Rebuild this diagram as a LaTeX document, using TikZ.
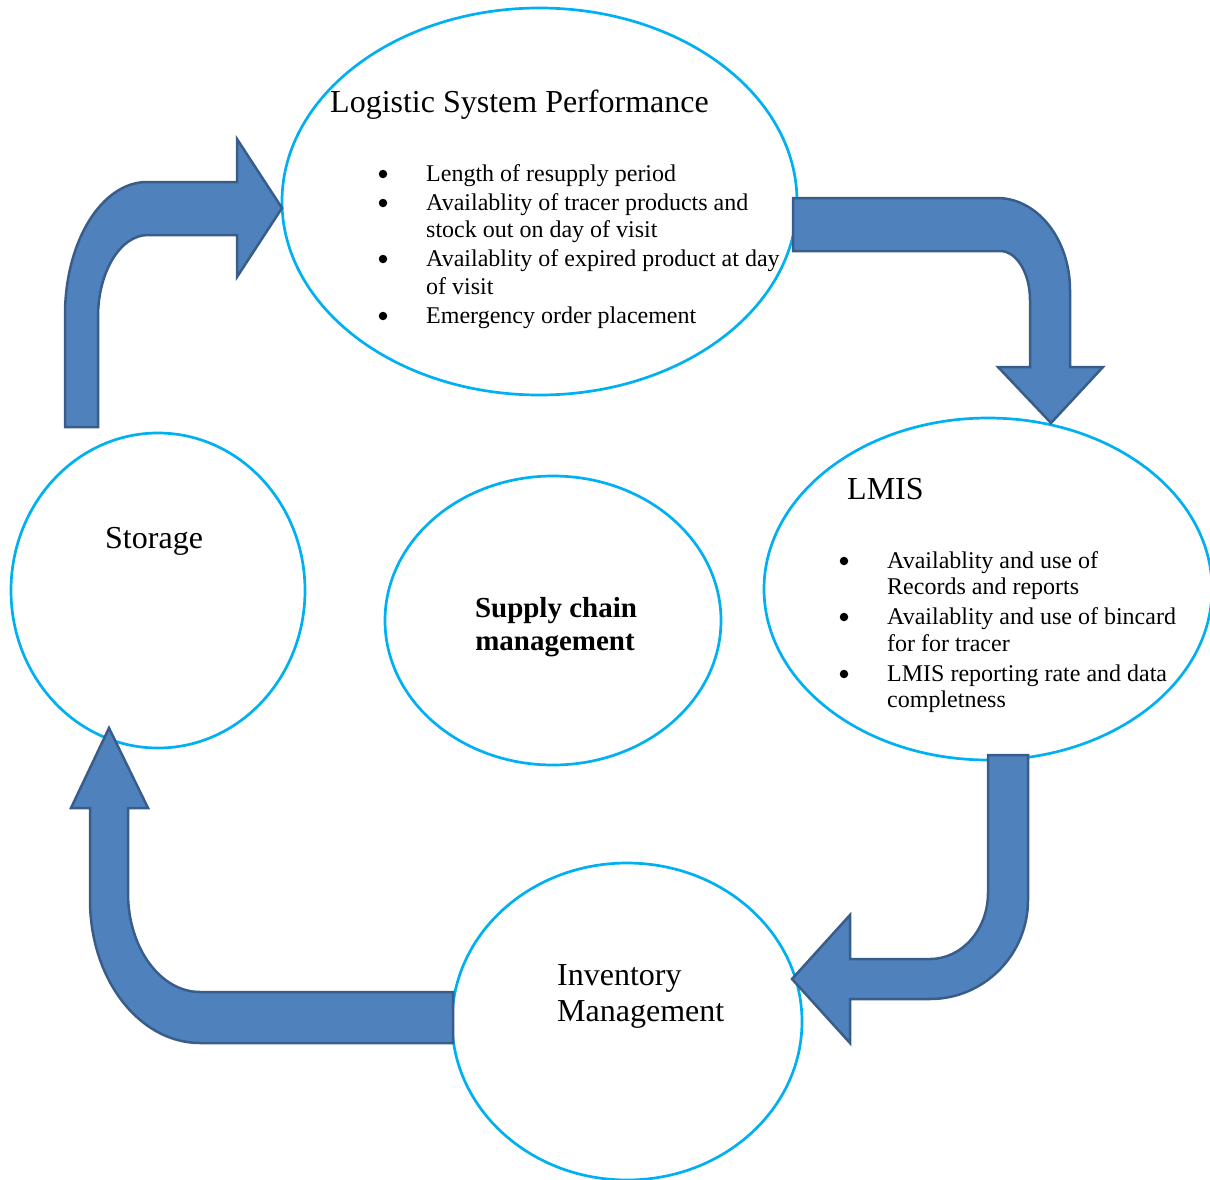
\documentclass[tikz,border=0pt]{standalone}
\usepackage{fontspec}
\setmainfont{Liberation Serif}
\usetikzlibrary{shapes.geometric}
\definecolor{ringblue}{HTML}{00B0F0}
\definecolor{arrowfill}{HTML}{4F81BD}
\definecolor{arrowline}{HTML}{385D8A}
\tikzset{
  ring/.style={ellipse, draw=ringblue, line width=2.7pt, inner sep=0pt},
  bigarrow/.style={fill=arrowfill, draw=arrowline, line width=2.5pt, line join=miter},
  txt/.style={anchor=base west, inner sep=0pt, font=\fontsize{24}{28}\selectfont},
  bul/.style={circle, fill=black, inner sep=0pt, minimum size=8.5pt, yshift=7pt},
  head/.style={anchor=base west, inner sep=0pt, font=\fontsize{32}{38}\selectfont},
  boldc/.style={anchor=base, inner sep=0pt, font=\fontsize{29}{34}\selectfont\bfseries}
}
\begin{document}
\begin{tikzpicture}[x=1pt,y=-1pt]
\useasboundingbox (0,0) rectangle (1210,1180);
% ellipses
\node[ring, minimum width=515pt, minimum height=387pt] (lsp) at (539.5,201.5) {};
\node[ring, minimum width=448pt, minimum height=342pt] (lmis) at (988,589) {};
\node[ring, minimum width=294pt, minimum height=315pt] (sto) at (158,590.5) {};
\node[ring, minimum width=336pt, minimum height=289pt] (scm) at (553,620.5) {};
\node[ring, minimum width=350pt, minimum height=317pt] (inv) at (627,1021.5) {};
% arrow: storage -> logistic system performance
\draw[bigarrow] (65,427) -- (65,315)
  .. controls (65,241.5) and (101.7,182) .. (147,182)
  -- (237,182) -- (237,139) -- (282,208) -- (237,277) -- (237,235) -- (148,235)
  .. controls (120.4,235) and (98,271.7) .. (98,317)
  -- (98,427) -- cycle;
% arrow: logistic system performance -> LMIS
\draw[bigarrow] (793,198) -- (997,198)
  .. controls (1037.3,198) and (1070,239.2) .. (1070,290)
  -- (1070,367) -- (1103,367) -- (1051,423) -- (998,367) -- (1030,367) -- (1030,300)
  .. controls (1030,273) and (1016.6,251) .. (1000,251)
  -- (793,251) -- cycle;
% arrow: LMIS -> inventory management
\draw[bigarrow] (988,755) -- (1028,755) -- (1028,900)
  .. controls (1028,954.7) and (984.1,999) .. (930,999)
  -- (850,999) -- (850,1043) -- (792,979) -- (850,915) -- (850,959) -- (930,959)
  .. controls (962,959) and (988,929.5) .. (988,893)
  -- cycle;
% arrow: inventory management -> storage
\draw[bigarrow] (453,992) -- (453,1043) -- (200,1043)
  .. controls (139.2,1043) and (90,979) .. (90,900)
  -- (90,808) -- (71,808) -- (109,728) -- (148,808) -- (128,808) -- (128,893)
  .. controls (128,947.7) and (160.2,992) .. (200,992)
  -- cycle;
% texts: logistic system performance
\node[head] (lspt) at (330,113) {Logistic System Performance};
\node[bul] (lb1) at (383,181) {};
\node[txt] (l1) at (426,181) {Length of resupply period};
\node[bul] (lb2) at (383,210) {};
\node[txt] (l2) at (426,210) {Availablity of tracer products and};
\node[txt] (l2b) at (426,237) {stock out on day of visit};
\node[bul] (lb3) at (383,266) {};
\node[txt] (l3) at (426,266) {Availablity of expired product at day};
\node[txt] (l3b) at (426,294) {of visit};
\node[bul] (lb4) at (383,323) {};
\node[txt] (l4) at (426,323) {Emergency order placement};
% texts: LMIS
\node[head] (lmist) at (847,499) {LMIS};
\node[bul] (mb1) at (844,568) {};
\node[txt] (m1) at (887,568) {Availablity and use of};
\node[txt] (m1b) at (887,594) {Records and reports};
\node[bul] (mb2) at (844,624) {};
\node[txt] (m2) at (887,624) {Availablity and use of bincard};
\node[txt] (m2b) at (887,651) {for for tracer};
\node[bul] (mb3) at (844,681) {};
\node[txt] (m3) at (887,681) {LMIS reporting rate and data};
\node[txt] (m3b) at (887,707) {completness};
% storage
\node[head] (stot) at (105,548) {Storage};
% supply chain management
\node[boldc] (scm1) at (556,617) {Supply chain};
\node[boldc] (scm2) at (555,650) {management};
% inventory management
\node[head] (inv1) at (557,985) {Inventory};
\node[head] (inv2) at (557,1021) {Management};
\end{tikzpicture}
\end{document}
